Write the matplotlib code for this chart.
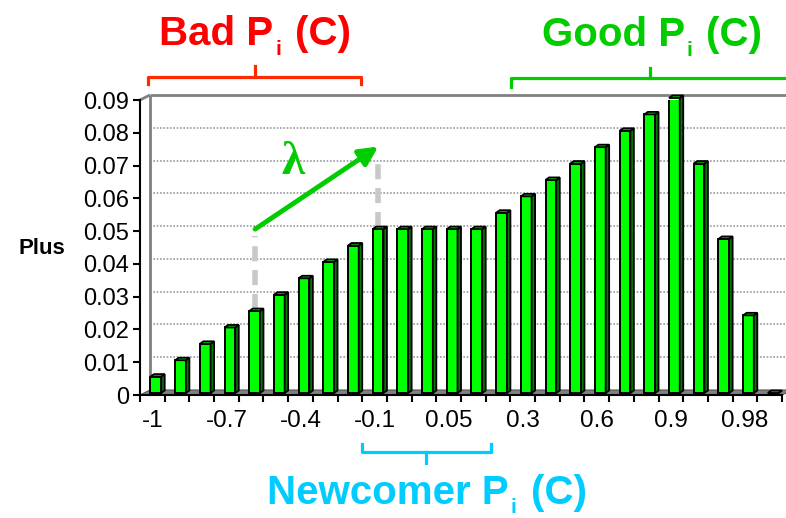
import numpy as np
import matplotlib.pyplot as plt
from matplotlib.patches import Polygon

plt.rcParams['font.family'] = ['Liberation Sans', 'DejaVu Sans']

# categories along the x axis and the Plus value of each
categories = ['-1', '-0.9', '-0.8', '-0.7', '-0.6', '-0.5', '-0.4', '-0.3', '-0.2',
              '-0.1', '-0.05', '0', '0.05', '0.1', '0.2', '0.3', '0.4', '0.5', '0.6',
              '0.7', '0.8', '0.9', '0.93', '0.95', '0.98', '1']
plus = [0.005, 0.01, 0.015, 0.02, 0.025, 0.03, 0.035, 0.04, 0.045, 0.05,
        0.05, 0.05, 0.05, 0.05, 0.055, 0.06, 0.065, 0.07, 0.075, 0.08,
        0.085, 0.09, 0.07, 0.047, 0.0237, 0.0]
x_labels = categories[::3]
y_ticks = [0, 0.01, 0.02, 0.03, 0.04, 0.05, 0.06, 0.07, 0.08, 0.09]
y_labels = ['0', '0.01', '0.02', '0.03', '0.04', '0.05', '0.06', '0.07', '0.08', '0.09']

W, H = 786, 518
fig = plt.figure(figsize=(W / 100, H / 100), dpi=100)
ax = fig.add_axes([140 / W, 123 / H, 642 / W, 295 / H])
n = len(plus)
ymax = y_ticks[-1]
ax.set_xlim(0, n)
ax.set_ylim(0, ymax)
ax.patch.set_visible(False)

# one pixel in data units
px = n / 642
py = ymax / 295
wdx, wdy = 10 * px, 5 * py

# back wall, side wall edge, floor
ax.add_patch(Polygon([(wdx, wdy), (n + 2 * wdx, wdy), (n + 2 * wdx, ymax + wdy), (wdx, ymax + wdy)],
                     closed=True, fc='white', ec='none', zorder=0, clip_on=False))
for v in y_ticks[1:-1]:
    ax.plot([wdx, n + 2 * wdx], [v + wdy, v + wdy], color='#9a9a9a', lw=1.2,
            ls=(0, (1, 1)), zorder=1, clip_on=False)
wall = dict(color='#808080', lw=2, zorder=2, clip_on=False, solid_capstyle='butt')
ax.plot([wdx, n + 2 * wdx], [ymax + wdy, ymax + wdy], **wall)
ax.plot([wdx, wdx], [wdy, ymax + wdy], **wall)
ax.plot([0, wdx], [ymax, ymax + wdy], **wall)
ax.add_patch(Polygon([(0, 0), (n, 0), (n + wdx, wdy), (wdx, wdy)], closed=True,
                     fc='#808080', ec='#555555', lw=0.8, zorder=2, clip_on=False))

# bars with side and top faces
bx = np.arange(n) + 0.5 + 3.5 * px
bw = 10.7 * px
base = 2 * py
bdx, bdy = 3.5 * px, 2.5 * py
ax.bar(bx, plus, bw, bottom=base, color='#00ff00', edgecolor='black', linewidth=1.4, zorder=4)
for x, v in zip(bx, plus):
    l, r, top = x - bw / 2, x + bw / 2, base + v
    ax.add_patch(Polygon([(r, base), (r + bdx, base + bdy), (r + bdx, top + bdy), (r, top)],
                         closed=True, fc='#007a00', ec='black', lw=1.3, zorder=4, clip_on=False))
    ax.add_patch(Polygon([(l, top), (r, top), (r + bdx, top + bdy), (l + bdx, top + bdy)],
                         closed=True, fc='#00dd00', ec='black', lw=1.3, zorder=4, clip_on=False))

# dashed guides and the lambda arrow
dash = dict(color='#c8c8c8', lw=4, ls=(0, (2.7, 1.6)), zorder=3, clip_on=False)
ax.plot([bx[4], bx[4]], [base + plus[4] + bdy, 0.0485], **dash)
ax.plot([bx[9], bx[9]], [base + plus[9] + bdy, 0.0729], **dash)
ax.annotate('', xy=(9.65, 0.0758), xytext=(4.66, 0.0506),
            arrowprops=dict(arrowstyle='-|>', color='#00cc00', lw=3.5, mutation_scale=28,
                            shrinkA=0, shrinkB=0), annotation_clip=False, zorder=5)

# axes, ticks and labels
for s in ['top', 'right']:
    ax.spines[s].set_visible(False)
for s in ['left', 'bottom']:
    ax.spines[s].set_linewidth(1.5)
    ax.spines[s].set_zorder(6)
ax.set_yticks(y_ticks)
ax.set_yticklabels(y_labels, fontsize=17)
ax.tick_params(axis='y', length=5, width=1.5, pad=3)
ax.set_xticks(np.arange(n + 1))
ax.set_xticks(np.arange(0, n, 3) + 0.5, minor=True)
ax.set_xticklabels(x_labels, minor=True, fontsize=17.5)
ax.tick_params(axis='x', which='major', length=5, width=1.5, labelbottom=False)
ax.tick_params(axis='x', which='minor', length=0, pad=11)

# overlay in pixel coordinates for the group brackets and titles
ov = fig.add_axes([0, 0, 1, 1])
ov.set_xlim(0, W)
ov.set_ylim(H, 0)
ov.axis('off')
ov.patch.set_visible(False)

def bracket(x0, x1, y, end, xm, tip, color):
    ov.plot([x0, x0, x1, x1], [end, y, y, end], color=color, lw=2.3, solid_joinstyle='round')
    ov.plot([xm, xm], [y, tip], color=color, lw=2.3)

bracket(148, 361, 77, 84, 255, 66, '#ff2a00')
bracket(511, 800, 78, 87, 650, 68, '#00cc00')
bracket(362, 491, 452, 444, 426, 463, '#00ccff')

renderer = fig.canvas.get_renderer()

def group_title(xc, y, word, color, drop=10):
    # word + "P", a lowered small "i", then "(C)", laid out left to right
    parts = [(word + ' P', 29, 0, 2), ('i', 15, drop, 14), ('(C)', 29, 0, 0)]
    texts = []
    for s, size, dy, gap in parts:
        t = ov.text(0, y + dy, s, fontsize=size, fontweight='bold', color=color,
                    ha='left', va='baseline')
        texts.append((t, t.get_window_extent(renderer).width, gap))
    total = sum(w + g for _, w, g in texts)
    x = xc - total / 2
    for t, w, g in texts:
        t.set_x(x)
        x += w + g

group_title(255, 45, 'Bad', '#ff0000')
group_title(652, 46, 'Good', '#00cc00')
group_title(427, 504, 'Newcomer', '#00ccff', drop=9)

ov.text(293, 163, 'λ', color='#00cc00', fontsize=34, fontweight='bold',
        family=['Liberation Serif', 'DejaVu Serif'], ha='center', va='center')
ov.text(42, 254, 'Plus', fontsize=16, fontweight='bold', ha='center', va='baseline')

fig.savefig('out.png', dpi=100)
